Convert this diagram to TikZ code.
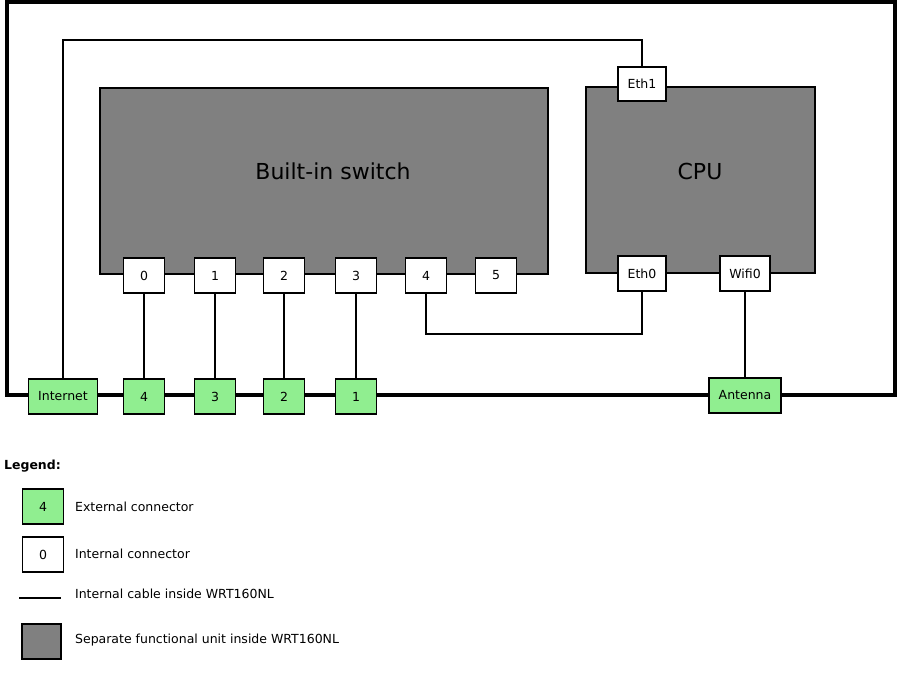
\documentclass[tikz,border=0pt]{standalone}
\usepackage{fontspec}
\setmainfont{DejaVu Sans}
\usetikzlibrary{positioning}
\definecolor{extgreen}{HTML}{90EE90}
\definecolor{unitgray}{HTML}{808080}

\begin{document}
\begin{tikzpicture}[x=1pt, y=-1pt, line width=1.6pt,
	unit/.style ={rectangle, draw, fill=unitgray, inner sep=0pt},
	unittext/.style ={font=\fontsize{22}{26}\selectfont},
	port/.style ={rectangle, draw, fill=white, inner sep=0pt,
		minimum width=41pt, minimum height=35pt, font=\fontsize{12.5}{14}\selectfont},
	extport/.style ={port, fill=extgreen},
	legtext/.style ={anchor=west, font=\fontsize{12.5}{14}\selectfont}]
	\useasboundingbox (0,0) rectangle (900,682);
	% case
	\draw[line width=3.5pt] (7,2) rectangle (895,395);
	% functional units
	\node[unit, minimum width=448pt, minimum height=186pt] (sw) at (324,181) {};
	\node[unittext] (swl) at (333,171) {Built-in switch};
	\node[unit, minimum width=229pt, minimum height=186pt] (cpu) at (700.5,180) {};
	\node[unittext] (cpul) at (700,171) {CPU};
	% internal connectors
	\node[port] (s0) at (144,275.5) {0};
	\node[port] (s1) at (215,275.5) {1};
	\node[port] (s2) at (284,275.5) {2};
	\node[port] (s3) at (356,275.5) {3};
	\node[port] (s4) at (426,275.5) {4};
	\node[port] (s5) at (496,275.5) {5};
	\node[port, minimum width=48pt, minimum height=34pt] (eth1) at (642,84) {Eth1};
	\node[port, minimum width=48pt] (eth0) at (642,273.5) {Eth0};
	\node[port, minimum width=50pt] (wifi) at (745,273.5) {Wifi0};
	% external connectors
	\node[extport, minimum width=69pt] (inet) at (63,396.5) {Internet};
	\node[extport] (e4) at (144,396.5) {4};
	\node[extport] (e3) at (215,396.5) {3};
	\node[extport] (e2) at (284,396.5) {2};
	\node[extport] (e1) at (356,396.5) {1};
	\node[extport, minimum width=72pt] (ant) at (745,395.5) {Antenna};
	% cables
	\draw (s0) -- (e4);
	\draw (s1) -- (e3);
	\draw (s2) -- (e2);
	\draw (s3) -- (e1);
	\draw (s4.south) -- ++(0,40) -| (eth0.south);
	\draw (inet.north) -- ++(0,-338) -| (eth1.north);
	\draw (wifi) -- (ant);
	% legend
	\node[legtext, font=\fontsize{12.5}{14}\selectfont\bfseries] (leg) at (0,466) {Legend:};
	\node[extport] (lext) at (43,506.5) {4};
	\node[legtext] (lextt) at (71,507) {External connector};
	\node[port] (lint) at (43,554.5) {0};
	\node[legtext] (lintt) at (71,554) {Internal connector};
	\coordinate (la) at (19,598);
	\coordinate (lb) at (61,598);
	\draw (la) -- (lb);
	\node[legtext] (lcab) at (71,594) {Internal cable inside WRT160NL};
	\node[unit, minimum width=39pt, minimum height=35pt] (lunit) at (41.5,641.5) {};
	\node[legtext] (lunitt) at (71,640) {Separate functional unit inside WRT160NL};
\end{tikzpicture}
\end{document}
